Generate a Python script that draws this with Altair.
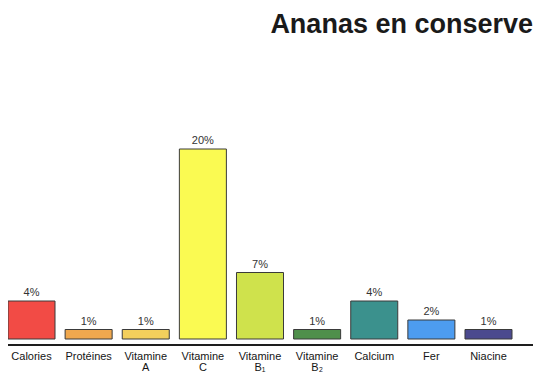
import altair as alt
import pandas as pd

categories = ["Calories", "Protéines", "Vitamine A", "Vitamine C", "Vitamine B1",
              "Vitamine B2", "Calcium", "Fer", "Niacine"]
labels = ["Calories", "Protéines", "Vitamine\nA", "Vitamine\nC", "Vitamine\nB₁",
          "Vitamine\nB₂", "Calcium", "Fer", "Niacine"]
values = [4, 1, 1, 20, 7, 1, 4, 2, 1]
colors = ["#f24b45", "#f0a84e", "#f3cf5c", "#fafa52", "#cfe24c",
          "#4f8f4b", "#3b918d", "#4d9cf0", "#4b4a8e"]
title_text = "Ananas en conserve"

FONT = "Liberation Sans, Arial, Helvetica, sans-serif"

df = pd.DataFrame({
    "cat": categories,
    "label": labels,
    "val": values,
    "vt": [f"{v}%" for v in values],
})

x = alt.X("cat:N", sort=categories, axis=None,
          scale=alt.Scale(range=[0, 504], paddingInner=0.177, paddingOuter=0))
y = alt.Y("val:Q", axis=None, scale=alt.Scale(domain=[0, 20], range=[331, 141]))

base = alt.Chart(df)

bars = base.mark_bar(stroke="#3a3a3a", strokeWidth=1).encode(
    x=x, y=y,
    color=alt.Color("cat:N", scale=alt.Scale(domain=categories, range=colors), legend=None),
)

value_labels = base.mark_text(dy=-3, baseline="bottom", fontSize=11, color="#333333",
                              font=FONT).encode(x=x, y=y, text="vt:N")

cat_labels = base.mark_text(baseline="top", lineBreak="\n", fontSize=11, lineHeight=11,
                            color="#151515", font=FONT).encode(
    x=x, y=alt.value(343), text="label:N")

rule = base.mark_rule(color="#1e1e1e", strokeWidth=2).encode(
    x=alt.value(0), x2=alt.value(525), y=alt.value(337))

title = alt.Chart(pd.DataFrame({"t": [title_text]})).mark_text(
    align="right", baseline="alphabetic", fontSize=27, fontWeight="bold",
    font=FONT, color="#1a1a1a").encode(x=alt.value(525), y=alt.value(25), text="t:N")

chart = alt.layer(bars, value_labels, cat_labels, rule, title).properties(
    width=525, height=364, autosize="none", padding=0
).configure_view(stroke=None)

chart.save("out.html", embed_options={"renderer": "svg", "actions": False})
